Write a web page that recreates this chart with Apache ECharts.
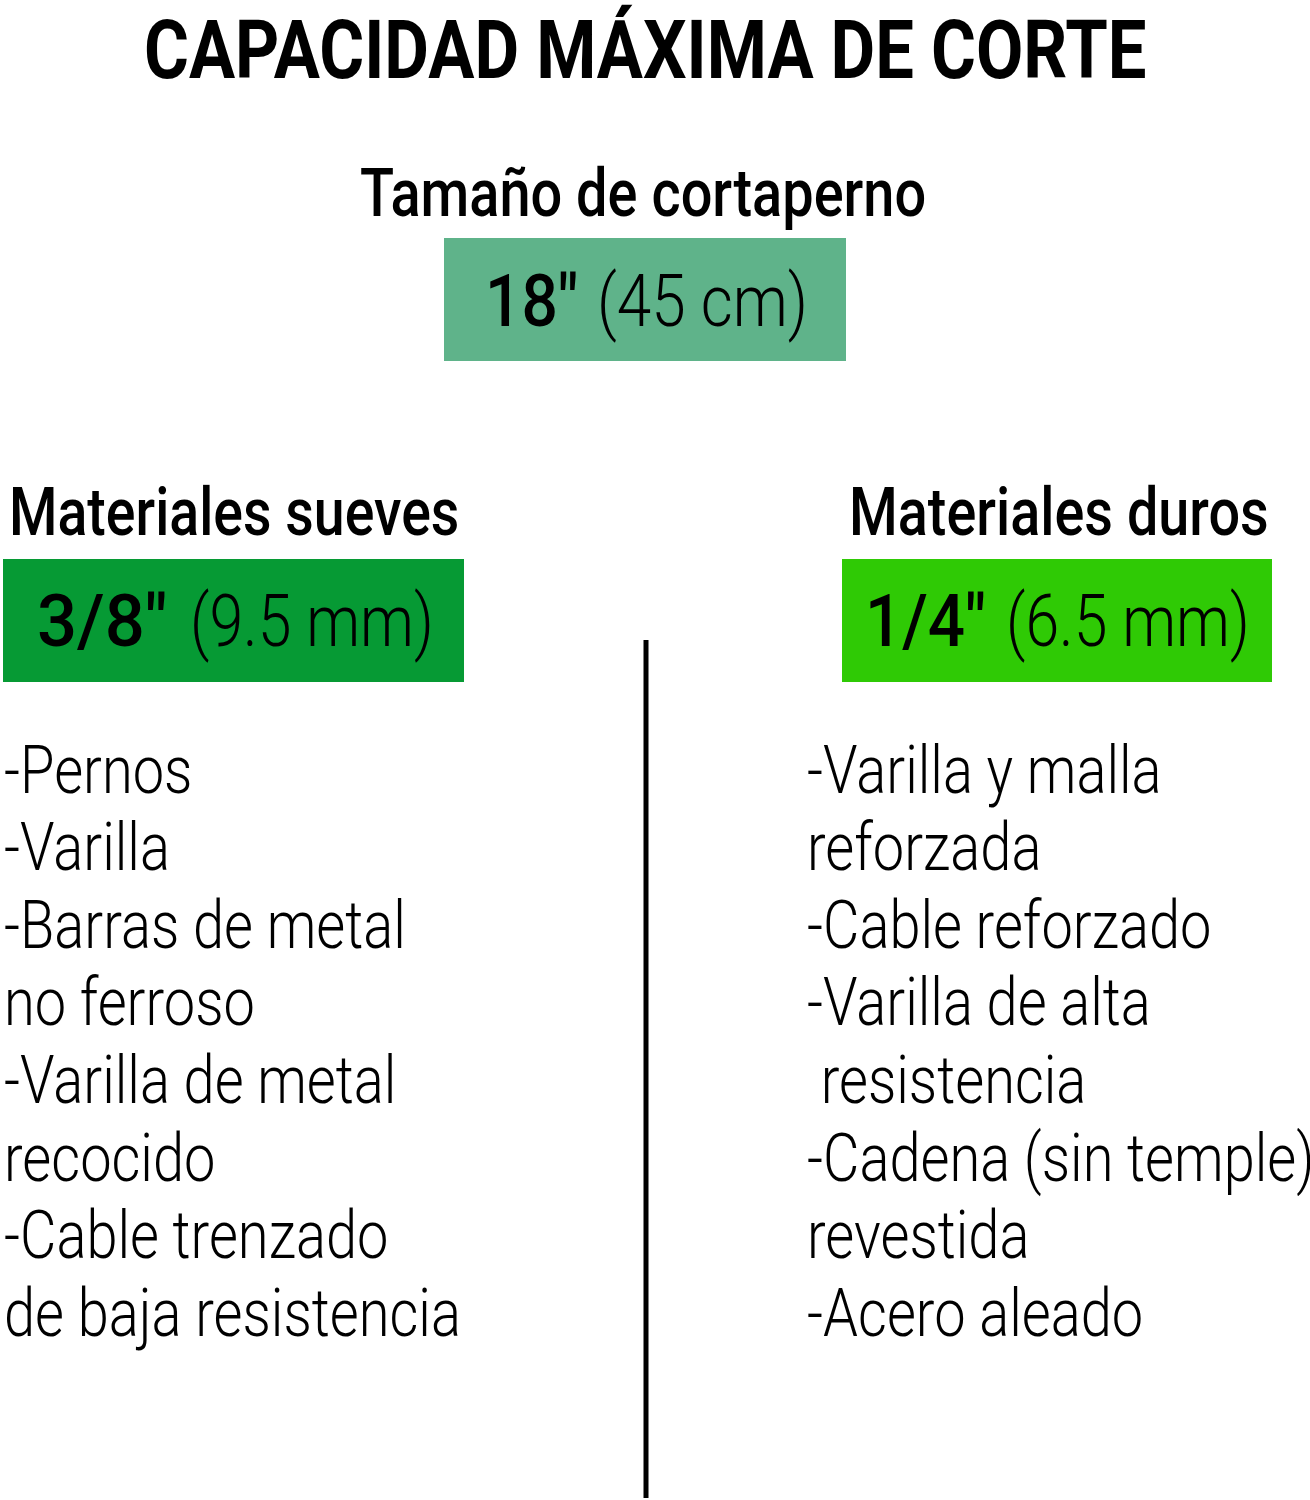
<!DOCTYPE html>
<html>
<head>
<meta charset="utf-8">
<script src="https://cdn.jsdelivr.net/npm/echarts@6/dist/echarts.min.js"></script>
<style>
  html, body { margin: 0; padding: 0; background: #fff; }
  #main { width: 1310px; height: 1500px; }
</style>
</head>
<body>
<div id="main"></div>
<script>
const titulo = 'CAPACIDAD MÁXIMA DE CORTE';
const subtitulo = 'Tamaño de cortaperno';
const tamano = ['18\u2033', '(45 cm)'];
const encabezados = ['Materiales sueves', 'Materiales duros'];
const capacidades = [['3/8\u2033', '(9.5 mm)'], ['1/4\u2033', '(6.5 mm)']];
const suaves = ['-Pernos', '-Varilla', '-Barras de metal', 'no ferroso', '-Varilla de metal', 'recocido', '-Cable trenzado', 'de baja resistencia'];
const duros = ['-Varilla y malla', 'reforzada', '-Cable reforzado', '-Varilla de alta', ' resistencia', '-Cadena (sin temple)', 'revestida', '-Acero aleado'];

const FONT = 'Roboto, sans-serif';
const chart = echarts.init(document.getElementById('main'));

// texto angostado con scaleX, la fuente original es condensada
const txt = (text, x, y, size, sx, weight) => ({
  type: 'text', x, y, scaleX: sx,
  style: { text, font: `${weight} ${size}px ${FONT}`, fill: '#000', textVerticalAlign: 'middle' }
});
const rect = (x, y, width, height, fill) => ({ type: 'rect', shape: { x, y, width, height }, style: { fill } });

const graphics = [
  txt(titulo, 144, 57, 82, 0.8375, 700),
  txt(subtitulo, 360, 199, 66, 0.847, 500),
  rect(444, 238, 402, 123, '#5fb38a'),
  rect(3, 559, 461, 123, '#069a34'),
  rect(842, 559, 430, 123, '#2fca05'),
  txt(tamano[0], 485, 308, 72, 0.89, 500),
  txt(tamano[1], 597, 308, 72, 0.862, 300),
  txt(encabezados[0], 9, 518, 66, 0.84, 500),
  txt(encabezados[1], 849, 518, 66, 0.845, 500),
  txt(capacidades[0][0], 37, 628, 72, 0.98, 500),
  txt(capacidades[0][1], 190, 628, 72, 0.844, 300),
  txt(capacidades[1][0], 865, 628, 72, 0.91, 500),
  txt(capacidades[1][1], 1006, 628, 72, 0.844, 300),
  { type: 'line', shape: { x1: 646, y1: 640, x2: 646, y2: 1498 }, style: { stroke: '#000', lineWidth: 5 } }
];
suaves.forEach((t, i) => graphics.push(txt(t, 4, 776 + i * 77.6, 66, 0.848, 300)));
duros.forEach((t, i) => graphics.push(txt(t, 807, 776 + i * 77.6, 66, 0.848, 300)));

chart.setOption({ backgroundColor: '#fff', animation: false, graphic: { elements: graphics } });
</script>
</body>
</html>
